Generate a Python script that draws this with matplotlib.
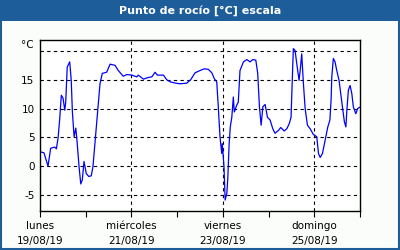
import matplotlib
matplotlib.use("Agg")
import matplotlib.pyplot as plt
from matplotlib.patches import Rectangle

# hours since 19/08/19 00:00, dew point in °C
hours = [0, 2.1, 4.2, 5.6, 7.7, 8.6, 9.5, 10.3, 11.2, 12.1, 13.0, 13.5, 14.3, 15.6,
         16.4, 17.0, 17.9, 18.8, 19.4, 20.5, 21.4, 22.2, 23.1, 24.3, 25.6, 26.9,
         27.8, 29.0, 30.3, 31.5, 32.7, 35.0, 36.8, 39.4, 41.1, 43.7, 45.5, 48.2,
         50.8, 51.6, 54.3, 56.9, 58.7, 60.4, 61.6, 64.8, 66.5, 68.6, 71.4, 73.5,
         77.0, 79.1, 81.4, 84.0, 86.3, 88.4, 90.2, 91.5, 92.8, 93.6, 94.5, 95.4,
         95.7, 96.6, 97.2, 98.1, 98.6, 99.3, 99.9, 100.7, 101.5, 102.0, 103.3,
         104.1, 105.0, 106.8, 108.6, 110.3, 111.7, 113.3, 114.3, 115.2, 116.1,
         117.0, 118.2, 119.4, 120.8, 122.2, 123.4, 125.2, 126.4, 128.2, 129.6,
         130.9, 131.8, 132.5, 133.0, 133.9, 134.8, 136.0, 136.6, 137.4, 138.3,
         139.2, 140.4, 141.8, 143.5, 145.3, 146.2, 147.1, 148.3, 149.7, 151.1,
         152.2, 152.8, 153.2, 154.0, 154.9, 155.8, 157.0, 158.1, 159.0, 159.8,
         160.6, 161.1, 161.9, 162.8, 163.7, 164.5, 165.8, 166.8, 167.7]
dewpoint = [2.5, 2.3, 0.0, 3.1, 3.3, 3.0, 4.9, 8.0, 12.3, 11.8, 9.7, 11.1, 17.2, 18.1,
            14.9, 9.4, 5.1, 6.6, 4.5, -0.1, -3.1, -2.4, 0.8, -1.3, -1.8, -1.7,
            -0.1, 4.5, 9.7, 14.3, 16.1, 16.3, 17.7, 17.5, 16.6, 15.6, 15.9, 15.8,
            15.5, 15.8, 15.1, 15.4, 15.5, 16.3, 15.8, 15.8, 15.0, 14.6, 14.4, 14.3,
            14.4, 15.0, 16.2, 16.6, 16.9, 16.8, 16.2, 15.2, 14.6, 10.3, 5.1, 2.2,
            3.9, -0.1, -5.9, -4.7, -2.1, 3.9, 6.8, 8.5, 12.0, 9.4, 10.6,
            11.1, 16.6, 18.1, 18.5, 18.1, 18.5, 18.4, 16.1, 10.3, 7.1,
            10.3, 10.7, 8.5, 8.0, 6.5, 5.7, 6.2, 6.7, 6.1, 6.5,
            7.4, 8.5, 15.5, 20.4, 20.1, 17.8, 14.9, 16.6, 19.5, 14.3,
            10.0, 7.1, 6.5, 5.5, 5.1, 2.2, 1.5, 2.2, 4.5, 6.8,
            8.0, 11.4, 15.5, 18.7, 18.1, 16.6, 14.9, 12.0, 9.7, 7.7,
            6.8, 9.7, 13.2, 14.0, 12.6, 10.3, 9.1, 10.0, 10.2]

day_labels = ["lunes\n19/08/19", "miércoles\n21/08/19", "viernes\n23/08/19", "domingo\n25/08/19"]
yticks = [-5, 0, 5, 10, 15, 20]

title_blue = "#1d5d99"

fig = plt.figure(figsize=(4, 2.5), dpi=100)
fig.patch.set_facecolor("#fbfdfb")
fig.patches.append(Rectangle((0, 0.918), 1, 0.082, transform=fig.transFigure,
                             facecolor=title_blue, edgecolor="none", zorder=0))
fig.patches.append(Rectangle((0.002, 0.004), 0.996, 0.994, transform=fig.transFigure,
                             facecolor="none", edgecolor=title_blue, linewidth=1.5, zorder=5))
fig.text(0.5, 0.958, "Punto de rocío [°C] escala", color="white", fontsize=8,
         fontweight="bold", ha="center", va="center")

ax = fig.add_axes([0.1, 0.156, 0.8, 0.684])
ax.plot(hours, dewpoint, color="#0000ff", linewidth=0.9)

ax.set_xlim(0, 168)
ax.set_ylim(-7.8, 21.9)

ax.set_yticks(yticks)
ax.set_yticklabels(["-5", "0", "5", "10", "15", ""], fontsize=7.5)
ax.tick_params(axis="y", length=0, pad=4)
ax.text(-0.02, 1.0, "°C", transform=ax.transAxes, ha="right", va="top", fontsize=7.5)

ax.set_xticks([0, 48, 96, 144])
ax.set_xticklabels(day_labels, fontsize=7.5, linespacing=1.6)
ax.set_xticks([24, 72, 120, 168], minor=True)
ax.tick_params(axis="x", which="both", length=4, width=0.8, direction="out", pad=3)

for y in yticks:
    ax.axhline(y, color="black", linestyle=(0, (3, 3)), linewidth=0.8, zorder=1)
for x in [48, 96, 144]:
    ax.axvline(x, color="black", linestyle=(0, (3, 3)), linewidth=0.8, zorder=1)

for s in ax.spines.values():
    s.set_linewidth(1.0)

fig.savefig("out.png", dpi=100, facecolor=fig.get_facecolor())
